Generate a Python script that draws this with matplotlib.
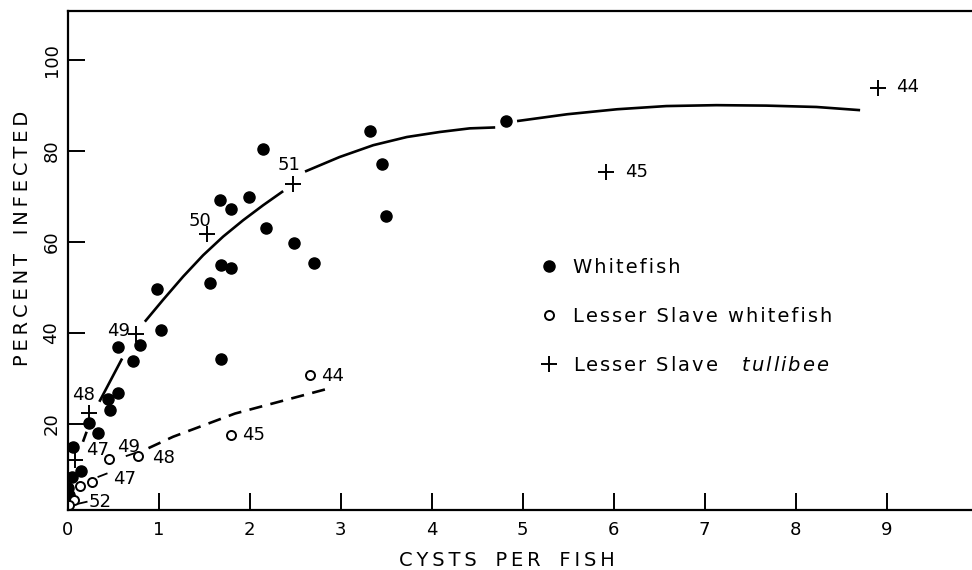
import numpy as np
import matplotlib
matplotlib.use("Agg")
import matplotlib.pyplot as plt
from matplotlib.lines import Line2D

plt.rcParams['font.family'] = ['DejaVu Sans']
plt.rcParams['mathtext.fontset'] = 'dejavusans'

# whitefish (filled dots)
wf_x = [3.32, 4.82, 2.15, 3.46, 3.50, 1.68, 1.80, 1.99, 2.18, 2.49, 2.71, 1.69, 1.80, 1.57, 0.98,
        1.03, 1.69, 0.56, 0.80, 0.72, 0.56, 0.44, 0.47, 0.24, 0.33, 0.06, 0.15, 0.05, 0.01, 0.02]
wf_y = [84.5, 86.7, 80.4, 77.1, 65.8, 69.2, 67.3, 69.8, 63.0, 59.9, 55.3, 54.9, 54.4, 50.9, 49.6,
        40.7, 34.2, 36.9, 37.3, 33.8, 26.9, 25.6, 23.1, 20.3, 18.0, 15.0, 9.7, 8.4, 5.9, 4.5]

# Lesser Slave whitefish (open circles) with year labels
lsw_x = [2.66, 1.80, 0.46, 0.77, 0.27, 0.14, 0.07, 0.02]
lsw_y = [30.8, 17.6, 12.3, 13.0, 7.3, 6.4, 3.3, 2.2]
lsw_lab = ["44", "45", "49", "48", "47", "", "52", ""]

# Lesser Slave tullibee (+) with year labels
tul_x = [8.91, 5.92, 2.48, 1.53, 0.75, 0.24, 0.08]
tul_y = [93.8, 75.5, 72.7, 61.8, 39.9, 22.4, 12.2]
tul_lab = ["44", "45", "51", "50", "49", "48", "47"]

# hand drawn solid curve, broken where labels/points sit (nan = gap)
curve_x = [0.17, 0.21, np.nan,
           0.35, 0.60, np.nan,
           0.85, 1.05, 1.27, 1.49, 1.71, 1.93, 2.15, 2.37, np.nan,
           2.61, 2.99, 3.36, 3.73, 4.09, 4.42, 4.70, np.nan,
           4.94, 5.49, 6.04, 6.58, 7.13, 7.68, 8.23, 8.71]
curve_y = [16.1, 18.3, np.nan,
           24.9, 34.4, np.nan,
           42.5, 47.3, 52.4, 57.1, 61.2, 64.8, 68.1, 71.2, np.nan,
           75.5, 78.7, 81.3, 83.1, 84.2, 85.0, 85.2, np.nan,
           86.6, 88.1, 89.2, 89.9, 90.1, 90.0, 89.7, 89.0]

# dashed curve for Lesser Slave whitefish + short leader dashes near origin
dash_x = [0.89, 1.16, 1.84, 2.83]
dash_y = [14.7, 17.2, 22.3, 27.6]
lead_x = [0.65, 0.74, np.nan, 0.34, 0.43, np.nan, 0.10, 0.21]
lead_y = [13.0, 13.6, np.nan, 8.4, 9.1, np.nan, 2.4, 2.9]

x_ticks = list(range(10))
y_ticks = [20, 40, 60, 80, 100]

# label offsets in pixels (layout only)
lsw_off = [(23, -1), (22, 0), (19, 12), (26, -2), (32, 3), (0, 0), (26, -2), (0, 0)]
tul_off = [(29, 1), (30, 0), (-4, 19), (-7, 13), (-17, 3), (-6, 18), (23, 10)]


def spaced(s, sep='\u200a'):
    return sep.join(s)


fig = plt.figure(figsize=(9.72, 5.70), dpi=100)
ax = fig.add_axes([67.5 / 972, 1 - 510 / 570, 1 - 67.5 / 972, (510 - 11) / 570])

ax.plot(curve_x, curve_y, color='black', lw=1.9, solid_capstyle='butt', solid_joinstyle='round')
ax.plot(dash_x, dash_y, color='black', lw=1.9, linestyle=(0, (5, 3.2)))
ax.plot(lead_x, lead_y, color='black', lw=1.3)

ax.plot(wf_x, wf_y, 'o', color='black', ms=8, linestyle='none')
ax.plot(lsw_x, lsw_y, 'o', mfc='white', mec='black', mew=1.4, ms=6.5, linestyle='none')
ax.plot(tul_x, tul_y, '+', color='black', mew=1.4, ms=11, linestyle='none')

for x, y, t, off in zip(lsw_x, lsw_y, lsw_lab, lsw_off):
    if t:
        ax.annotate(t, (x, y), xytext=off, textcoords='offset pixels',
                    ha='center', va='center', fontsize=13)
for x, y, t, off in zip(tul_x, tul_y, tul_lab, tul_off):
    ax.annotate(t, (x, y), xytext=off, textcoords='offset pixels',
                ha='center', va='center', fontsize=13)

handles = [
    Line2D([], [], marker='o', color='black', ms=8, linestyle='none'),
    Line2D([], [], marker='o', mfc='white', mec='black', mew=1.4, ms=6.5, linestyle='none'),
    Line2D([], [], marker='+', color='black', mew=1.4, ms=11, linestyle='none'),
]
labels = [spaced("Whitefish"), spaced("Lesser Slave whitefish"),
          spaced("Lesser Slave") + "    " + r"$\mathit{" + spaced("tullibee") + "}$"]
ax.legend(handles, labels, loc='upper left', bbox_to_anchor=(0.522, 0.505),
          frameon=False, fontsize=14, handlelength=1.0, handletextpad=0.7,
          labelspacing=1.55, borderpad=0, borderaxespad=0)

ax.set_xlim(0, (972 - 67.5) / 91)
ax.set_ylim(1.1, 110.8)
ax.set_xticks(x_ticks)
ax.set_yticks(y_ticks)
ax.set_xticklabels([str(v) for v in x_ticks])
ax.set_yticklabels([str(v) for v in y_ticks], rotation=90, va='center')
ax.tick_params(direction='in', length=12, width=1.4, labelsize=13, color='black')
ax.tick_params(axis='x', pad=8)
ax.tick_params(axis='y', pad=5)
for side in ['left', 'bottom', 'top']:
    ax.spines[side].set_linewidth(1.6)
ax.spines['right'].set_visible(False)

ax.set_xlabel("   ".join(spaced(w, '\u2009') for w in ["CYSTS", "PER", "FISH"]), fontsize=14)
ax.xaxis.label.set_va('center')
ax.xaxis.set_label_coords((507 - 67.5) / 904.5, (510 - 560) / 499)
ax.set_ylabel("   ".join(spaced(w, '\u2009') for w in ["PERCENT", "INFECTED"]), fontsize=14)
ax.yaxis.label.set_va('center')
ax.yaxis.set_label_coords((22 - 67.5) / 904.5, (510 - 238) / 499)

fig.savefig("out.png", dpi=100)
